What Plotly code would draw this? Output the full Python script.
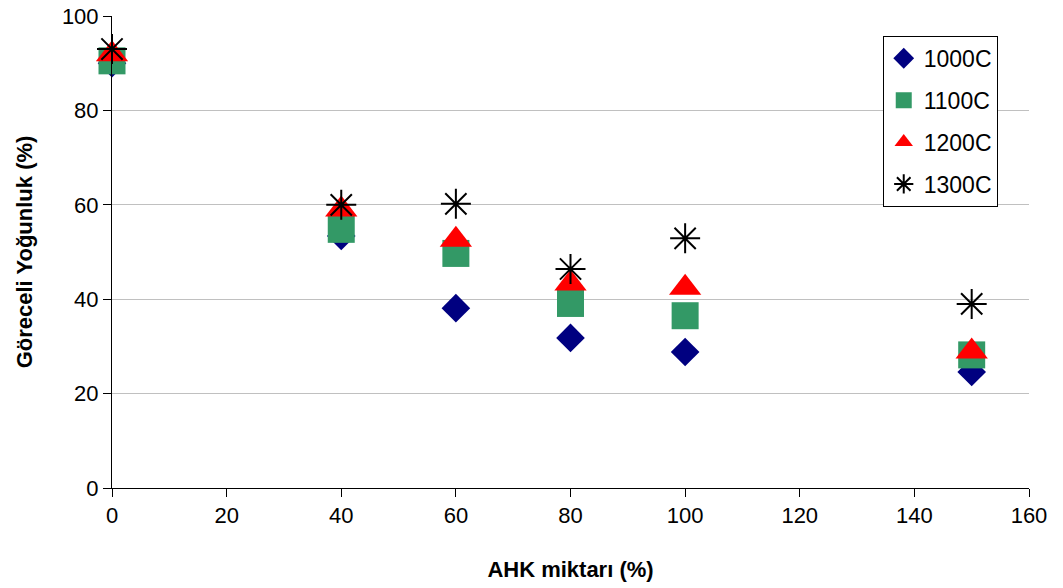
import plotly.graph_objects as go

ahk = [0, 40, 60, 80, 100, 150]
seri_1000 = [90.0, 53.4, 38.1, 31.8, 28.8, 24.6]
seri_1100 = [90.5, 54.8, 49.7, 39.1, 36.5, 28.2]
seri_1200 = [91.9, 59.0, 52.6, 43.3, 42.4, 28.9]
seri_1300 = [93.0, 60.0, 60.2, 46.4, 52.9, 39.0]

FONT = "Liberation Sans, Arial, sans-serif"

fig = go.Figure()
fig.add_trace(go.Scatter(
    x=ahk, y=seri_1000, mode="markers", name="1000C", legendgroup="a",
    marker=dict(symbol="diamond", size=22, color="#000080"),
))
fig.add_trace(go.Scatter(
    x=ahk, y=seri_1100, mode="markers", name="1100C", legendgroup="b",
    marker=dict(symbol="square", size=27, color="#339966"),
))
fig.add_trace(go.Scatter(
    x=ahk, y=seri_1200, mode="markers", name="1200C", legendgroup="c",
    marker=dict(symbol="triangle-up", size=28, color="#ff0000"),
))
fig.add_trace(go.Scatter(
    x=ahk, y=seri_1300, mode="markers", name="1300C", legendgroup="d",
    marker=dict(symbol="asterisk-open", size=25, color="black",
                line=dict(color="black", width=2)),
))
fig.update_traces(cliponaxis=False)

fig.update_layout(
    width=1063, height=588,
    margin=dict(l=112, r=34, t=16, b=100),
    paper_bgcolor="white", plot_bgcolor="white",
    font=dict(family=FONT, size=22, color="black"),
    legend=dict(
        x=0.8405, y=0.958, xanchor="left", yanchor="top",
        bordercolor="black", borderwidth=1, bgcolor="white",
        font=dict(size=23), tracegroupgap=9, traceorder="grouped",
    ),
    xaxis=dict(
        range=[0, 160], tickvals=list(range(0, 161, 20)),
        showgrid=False, zeroline=False, automargin=False,
        showline=True, linecolor="black", linewidth=1,
        ticks="outside", ticklen=8, tickcolor="black",
        ticklabeloverflow="allow",
        title=dict(text="<b>AHK miktarı (%)</b>", font=dict(size=22), standoff=34),
    ),
    yaxis=dict(
        range=[0, 100], tickvals=list(range(0, 101, 20)),
        showgrid=True, gridcolor="#c0c0c0", gridwidth=1, zeroline=False,
        automargin=False,
        showline=True, linecolor="black", linewidth=1,
        ticks="outside", ticklen=8, tickcolor="black",
        ticklabeloverflow="allow",
        title=dict(text="<b>Göreceli Yoğunluk (%)</b>", font=dict(size=22), standoff=23),
    ),
)

# drop the default 8px body margin so the figure sits at the window corner
fig.write_html(
    "out.html",
    config={"displayModeBar": False},
    post_script="document.body.style.margin = '0';",
)
